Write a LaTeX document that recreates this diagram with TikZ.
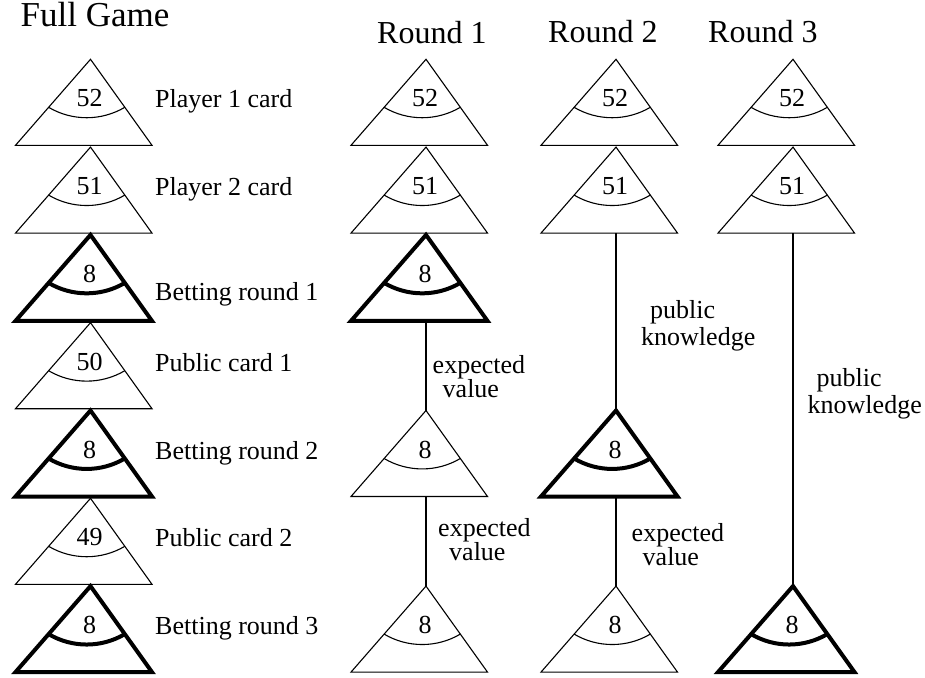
\documentclass[tikz,border=0pt]{standalone}
\usepackage{fontspec}
\setmainfont{Liberation Serif}
\tikzset{
  thintri/.style={line width=1.1pt, line join=miter},
  thicktri/.style={line width=4pt, line join=miter},
  link/.style={line width=1.3pt},
  num/.style={font=\fontsize{26}{26}\selectfont, anchor=base, inner sep=0pt},
  lbl/.style={font=\fontsize{26}{26}\selectfont, anchor=base west, inner sep=0pt},
  coltitle/.style={font=\fontsize{32}{32}\selectfont, anchor=base west, inner sep=0pt},
  gametitle/.style={font=\fontsize{35}{35}\selectfont, anchor=base west, inner sep=0pt},
}
% name, apex x, apex y, number, style
\newcommand\gametri[5]{%
  \coordinate (#1-a) at (#2,#3);
  \coordinate (#1-b) at (#2,#3+86);
  \draw[#5] (#2,#3) -- (#2-75,#3+86) -- (#2+61.5,#3+86) -- cycle;
  \draw[#5] (#2-41.9,#3+48) .. controls (#2-18.4,#3+61.9) and (#2+10.8,#3+61.9) .. (#2+34.3,#3+48);
  \node[num] (#1-n) at (#2-1,#3+47.5) {#4};
}
\begin{document}
\begin{tikzpicture}[x=1pt,y=-1pt]
\useasboundingbox (0,0) rectangle (925,677);
% titles
\node[gametitle] (tfull) at (20.5,27) {Full Game};
\node[coltitle] (tr1) at (377,44) {Round 1};
\node[coltitle] (tr2) at (548,42) {Round 2};
\node[coltitle] (tr3) at (708,42) {Round 3};
% full game column
\gametri{f1}{90.5}{59.3}{52}{thintri}
\gametri{f2}{90.5}{147.1}{51}{thintri}
\gametri{f3}{90.5}{234.9}{8}{thicktri}
\gametri{f4}{90.5}{322.7}{50}{thintri}
\gametri{f5}{90.5}{410.5}{8}{thicktri}
\gametri{f6}{90.5}{498.3}{49}{thintri}
\gametri{f7}{90.5}{586.1}{8}{thicktri}
% row labels
\node[lbl] (l1) at (155,107.3) {Player 1 card};
\node[lbl] (l2) at (155,195.1) {Player 2 card};
\node[lbl] (l3) at (155,300) {Betting round 1};
\node[lbl] (l4) at (155,371.4) {Public card 1};
\node[lbl] (l5) at (155,459) {Betting round 2};
\node[lbl] (l6) at (155,546.8) {Public card 2};
\node[lbl] (l7) at (155,634.6) {Betting round 3};
% round 1
\gametri{a1}{426}{59.3}{52}{thintri}
\gametri{a2}{426}{147.1}{51}{thintri}
\gametri{a3}{426}{234.9}{8}{thicktri}
\gametri{a5}{426}{410.5}{8}{thintri}
\gametri{a7}{426}{586.1}{8}{thintri}
\draw[link] (a3-b) -- (a5-a);
\draw[link] (a5-b) -- (a7-a);
\node[lbl] (ev1) at (432.5,373.3) {\vtop{\baselineskip=21pt\hbox{expected}\hbox{\hspace*{10pt}value}}};
\node[lbl] (ev2) at (438,536) {\vtop{\baselineskip=21pt\hbox{expected}\hbox{\hspace*{11pt}value}}};
% round 2
\gametri{b1}{616}{59.3}{52}{thintri}
\gametri{b2}{616}{147.1}{51}{thintri}
\gametri{b5}{616}{410.5}{8}{thicktri}
\gametri{b7}{616}{586.1}{8}{thintri}
\draw[link] (b2-b) -- (b5-a);
\draw[link] (b5-b) -- (b7-a);
\node[lbl] (pk1) at (641,318.3) {\vtop{\baselineskip=27pt\hbox{\hspace*{9pt}public}\hbox{knowledge}}};
\node[lbl] (ev3) at (631.5,541) {\vtop{\baselineskip=21pt\hbox{expected}\hbox{\hspace*{11pt}value}}};
% round 3
\gametri{c1}{793}{59.3}{52}{thintri}
\gametri{c2}{793}{147.1}{51}{thintri}
\gametri{c7}{793}{586.1}{8}{thicktri}
\draw[link] (c2-b) -- (c7-a);
\node[lbl] (pk2) at (807.5,386.7) {\vtop{\baselineskip=27pt\hbox{\hspace*{9pt}public}\hbox{knowledge}}};
\end{tikzpicture}
\end{document}
